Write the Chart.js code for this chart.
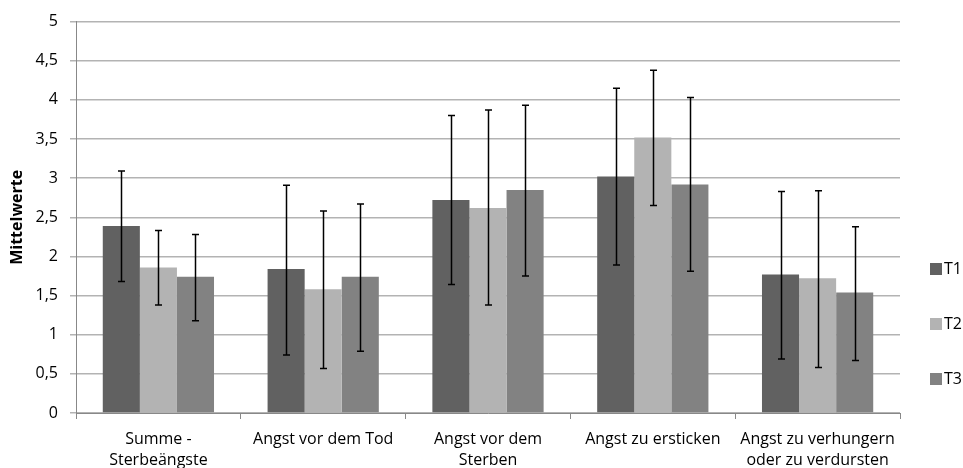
<!DOCTYPE html>
<html>
<head>
<meta charset="utf-8">
<script src="https://cdn.jsdelivr.net/npm/chart.js@4.4.1/dist/chart.umd.min.js"></script>
<style>
  html, body { margin: 0; padding: 0; background: #fff; }
  #wrap { width: 963px; height: 468px; }
</style>
</head>
<body>
<div id="wrap"><canvas id="chart_mittelwerte"></canvas></div>
<script>
// categories (multi-line labels)
const categories = [
	["Summe -", "Sterbeängste"],
	"Angst vor dem Tod",
	["Angst vor dem", "Sterben"],
	"Angst zu ersticken",
	["Angst zu verhungern", "oder zu verdursten"]
];
const seriesNames = ["T1", "T2", "T3"];
const seriesColors = ["#616161", "#b3b3b3", "#828282"];

// mean values
const t1 = [2.39, 1.84, 2.72, 3.02, 1.77];
const t2 = [1.86, 1.58, 2.62, 3.52, 1.72];
const t3 = [1.74, 1.74, 2.85, 2.92, 1.54];

// error bar ends (low / high)
const t1Low = [1.68, 0.74, 1.64, 1.89, 0.69];
const t1High = [3.09, 2.91, 3.80, 4.15, 2.83];
const t2Low = [1.38, 0.57, 1.38, 2.65, 0.58];
const t2High = [2.33, 2.58, 3.87, 4.38, 2.84];
const t3Low = [1.18, 0.79, 1.75, 1.81, 0.67];
const t3High = [2.28, 2.67, 3.93, 4.03, 2.38];

const yTicks = [0, 0.5, 1, 1.5, 2, 2.5, 3, 3.5, 4, 4.5, 5];

const values = [t1, t2, t3];
const lows = [t1Low, t2Low, t3Low];
const highs = [t1High, t2High, t3High];

const FONT = "'Open Sans', sans-serif";

// draws error bars on top of each bar
const errorBars = {
	id: 'errorBars',
	afterDatasetsDraw(chart) {
		const ctx = chart.ctx;
		const y = chart.scales.y;
		ctx.save();
		ctx.strokeStyle = '#000';
		ctx.lineWidth = 1.5;
		chart.data.datasets.forEach((ds, i) => {
			const meta = chart.getDatasetMeta(i);
			meta.data.forEach((bar, j) => {
				const x = Math.round(bar.x) + 0.5;
				const yl = y.getPixelForValue(lows[i][j]);
				const yh = y.getPixelForValue(highs[i][j]);
				ctx.beginPath();
				ctx.moveTo(x, yl); ctx.lineTo(x, yh);
				ctx.moveTo(x - 3.5, yl); ctx.lineTo(x + 3.5, yl);
				ctx.moveTo(x - 3.5, yh); ctx.lineTo(x + 3.5, yh);
				ctx.stroke();
			});
		});
		ctx.restore();
	}
};

// legend on the right, drawn by hand to match the spacing
const sideLegend = {
	id: 'sideLegend',
	afterDraw(chart) {
		const ctx = chart.ctx;
		const tops = [263, 318, 373];
		ctx.save();
		ctx.font = "16px " + FONT;
		ctx.textBaseline = 'middle';
		seriesNames.forEach((name, i) => {
			ctx.fillStyle = seriesColors[i];
			ctx.fillRect(930, tops[i], 12, 12);
			ctx.fillStyle = '#000';
			ctx.fillText(name, 944, tops[i] + 6.5);
		});
		ctx.restore();
	}
};

new Chart(document.getElementById("chart_mittelwerte"), {
	type: 'bar',
	data: {
		labels: categories,
		datasets: seriesNames.map((name, i) => ({
			label: name,
			data: values[i],
			backgroundColor: seriesColors[i],
			borderWidth: 0,
			barPercentage: 1.0,
			categoryPercentage: 0.675
		}))
	},
	options: {
		responsive: true,
		maintainAspectRatio: false,
		animation: false,
		layout: {
			padding: { top: 18, right: 63, left: 0, bottom: 0 }
		},
		plugins: {
			legend: { display: false },
			tooltip: { enabled: false }
		},
		scales: {
			x: {
				grid: {
					display: true,
					drawOnChartArea: false,
					drawTicks: true,
					tickLength: 6,
					color: '#888'
				},
				border: { color: '#888' },
				ticks: {
					color: '#000',
					font: { family: FONT, size: 16, lineHeight: 1.3 },
					maxRotation: 0,
					padding: 10
				},
				afterFit: (s) => { s.height = 55; }
			},
			y: {
				min: 0,
				max: 5,
				afterBuildTicks: (s) => { s.ticks = yTicks.map((v) => ({ value: v })); },
				grid: {
					color: '#b3b3b3',
					lineWidth: 1.5,
					tickLength: 6
				},
				border: { color: '#888' },
				ticks: {
					color: '#000',
					font: { family: FONT, size: 16 },
					padding: 12,
					callback: (v) => String(v).replace('.', ',')
				},
				title: {
					display: true,
					text: 'Mittelwerte',
					color: '#000',
					font: { family: FONT, size: 16, weight: 'bold' },
					padding: { top: 8, bottom: 0 }
				},
				afterFit: (s) => { s.width = 76; }
			}
		}
	},
	plugins: [errorBars, sideLegend]
});
</script>
</body>
</html>
